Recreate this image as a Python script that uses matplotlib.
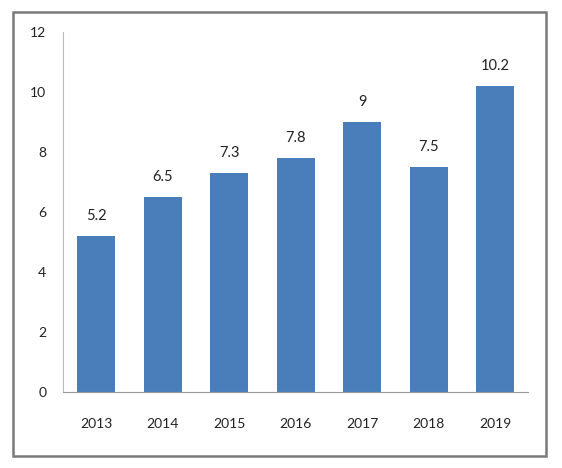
import matplotlib
matplotlib.use('Agg')
import matplotlib.pyplot as plt
from matplotlib.patches import Rectangle

# data
years = ['2013', '2014', '2015', '2016', '2017', '2018', '2019']
values = [5.2, 6.5, 7.3, 7.8, 9, 7.5, 10.2]
value_labels = ['5.2', '6.5', '7.3', '7.8', '9', '7.5', '10.2']

plt.rcParams['font.family'] = ['Lato', 'DejaVu Sans']

fig = plt.figure(figsize=(5.62, 4.68), dpi=100)
ax = fig.add_axes([0.112, 0.1624, 0.828, 0.7692])

x = range(len(years))
ax.bar(x, values, width=0.57, color='#4a7ebb', zorder=2)
for i, (v, lab) in enumerate(zip(values, value_labels)):
    ax.text(i, v + 0.45, lab, ha='center', va='bottom', fontsize=10.5, color='#222222')

ax.set_xlim(-0.5, len(years) - 0.5)
ax.set_ylim(0, 12)
ax.set_yticks(range(0, 13, 2))
ax.set_xticks(list(x))
ax.set_xticklabels(years)
ax.tick_params(axis='both', length=0, labelsize=10, colors='#222222')
ax.tick_params(axis='x', pad=19)
ax.tick_params(axis='y', pad=12)

for s in ['top', 'right']:
    ax.spines[s].set_visible(False)
ax.spines['left'].set_color('#bbbbbb')
ax.spines['bottom'].set_color('#999999')

# outer frame around the chart
fig.patches.append(Rectangle((13 / 562, 1 - 456 / 468), 533 / 562, 444 / 468,
                             transform=fig.transFigure, fill=False,
                             edgecolor='#7a7a7a', linewidth=1.8))

fig.savefig('out.png', dpi=100)
